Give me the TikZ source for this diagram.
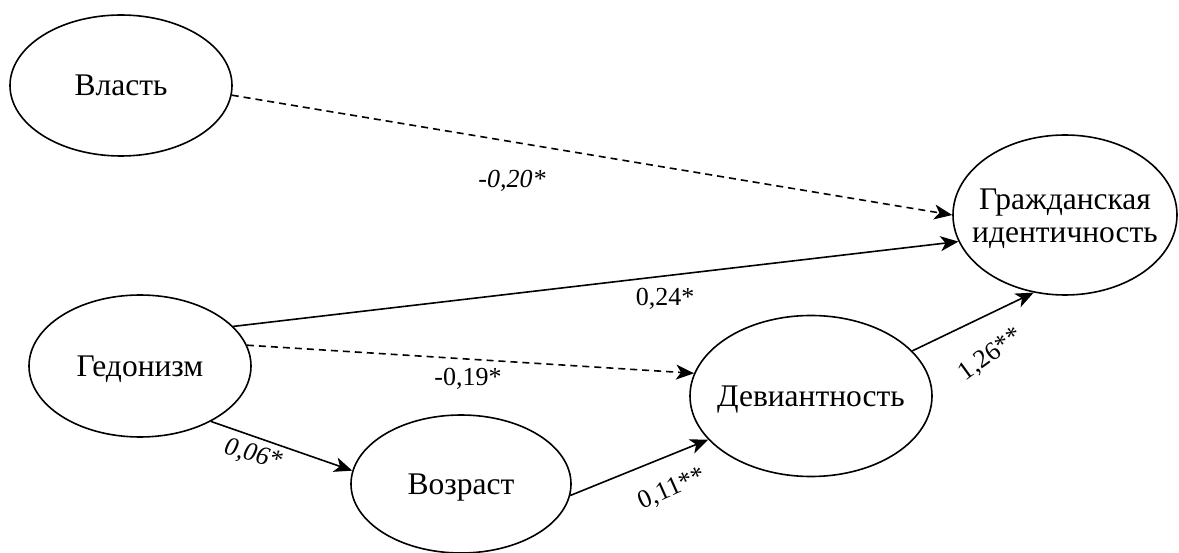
\documentclass[tikz,border=0pt]{standalone}
\usepackage{fontspec}
\setmainfont{Liberation Serif}
\usetikzlibrary{shapes.geometric,arrows.meta}
\tikzset{
  ell/.style={ellipse, draw, line width=1.6pt, inner sep=0pt},
  ntext/.style={font=\fontsize{31.5}{33}\selectfont, inner sep=0pt, align=center},
  lbl/.style={font=\fontsize{26}{28}\selectfont, inner sep=0pt},
  conn/.style={line width=1.6pt, -{Stealth[length=18pt,width=15pt,inset=5pt]}},
  dashconn/.style={conn, dash pattern=on 7pt off 5pt},
}
\begin{document}
\begin{tikzpicture}[x=1pt,y=-1pt]
\path[use as bounding box] (0,0) rectangle (1179,553);

\node[ell, minimum width=222pt, minimum height=141pt] (vl) at (121,85.5) {};
\node[ell, minimum width=222pt, minimum height=142pt] (ge) at (140,366) {};
\node[ell, minimum width=220pt, minimum height=138pt] (vo) at (461,484) {};
\node[ell, minimum width=242pt, minimum height=161pt] (de) at (811,396) {};
\node[ell, minimum width=224pt, minimum height=160pt] (gi) at (1065,215) {};

\node[ntext, anchor=base] (vlt) at ([yshift=-10.5pt]vl.center) {Власть};
\node[ntext, anchor=base] (get) at ([yshift=-10.5pt]ge.center) {Гедонизм};
\node[ntext, anchor=base] (vot) at ([yshift=-10.5pt]vo.center) {Возраст};
\node[ntext, anchor=base] (det) at ([yshift=-10.5pt]de.center) {Девиантность};
\node[ntext] (git) at ([yshift=-4pt]gi.center) {Гражданская\\идентичность};

\draw[dashconn] (vl.-5.9) -- (gi.180);
\draw[conn] (ge.23.8) -- (gi.194);
\draw[dashconn] (ge.11.1) -- (de.169);
\draw[conn] (ge.-38.7) -- (vo.173);
\draw[conn] (vo.-6.7) -- (de.203.9);
\draw[conn] (de.24.3) -- (gi.248);

\node[lbl, font=\fontsize{26}{28}\selectfont\itshape] (l1) at (512,181) {-0,20*};
\node[lbl] (l2) at (665,299) {0,24*};
\node[lbl] (l3) at (468,379) {-0,19*};
\node[lbl, font=\fontsize{26}{28}\selectfont\itshape, rotate=-15] (l4) at (253,455) {0,06*};
\node[lbl, rotate=24] (l5) at (672,489) {0,11**};
\node[lbl, rotate=36] (l6) at (991,355) {1,26**};
\end{tikzpicture}
\end{document}
